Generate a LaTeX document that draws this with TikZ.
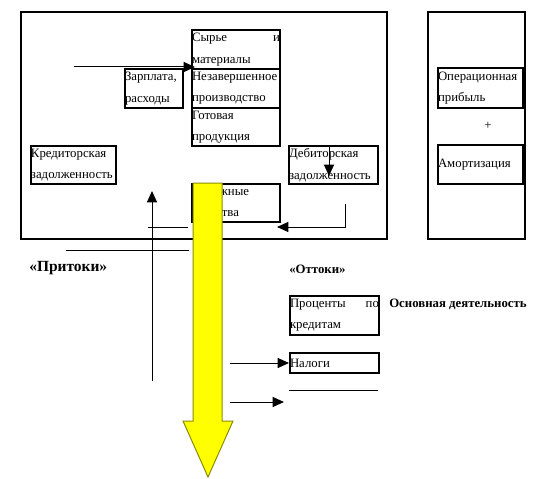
\documentclass[tikz,border=0pt]{standalone}
\usepackage{fontspec}
\setmainfont{Liberation Serif}
\usepackage{xcolor}
\usetikzlibrary{arrows.meta}
\definecolor{flowyellow}{RGB}{255,255,0}
\definecolor{flowedge}{RGB}{140,140,0}

\begin{document}
\begin{tikzpicture}[x=0.75pt,y=0.75pt,yscale=-1,xscale=1,
  box/.style 2 args={draw, line width=1.5pt, anchor=north west, inner sep=0pt, minimum width=#1, text width=#1, minimum height=#2, align=left, font=\fontsize{9.6}{16}\selectfont},
  lbl/.style={anchor=west, inner sep=0.75pt, font=\bfseries\fontsize{9.6}{12}\selectfont},
  arr/.style={line width=0.75pt, -{Triangle[length=8.5pt,width=7.5pt]}},
  ln/.style={line width=0.75pt}]
\useasboundingbox (0,0) rectangle (542,478);

%Shape: Rectangle
\draw [line width=1.5pt] (21,12) rectangle (387,239) ;
%Shape: Rectangle
\draw [line width=1.5pt] (428,12) rectangle (525,239) ;

% Text Node
\node (syr) at (191,29) [box={66pt}{29.25pt}] {Сырье\hfill и\\материалы};
% Text Node
\node (nez) at (191,68) [box={66pt}{29.25pt}] {Незавершенное\\производство};
% Text Node
\node (got) at (191,107) [box={66pt}{28.5pt}] {Готовая\\продукция};
% Text Node
\node (zar) at (124,68) [box={43.5pt}{29.25pt}] {Зарплата,\\расходы};
% Text Node
\node (kred) at (30,145) [box={63.75pt}{28.5pt}] {Кредиторская\\задолженность};
% Text Node
\node (deb) at (288,145) [box={66.75pt}{28.5pt}] {Дебиторская\\задолженность};
% Text Node
\node (den) at (191,183) [box={66pt}{28.5pt}] {Денежные\\средства};
% Text Node
\node (opr) at (437,67) [box={63.75pt}{30pt}] {Операционная\\прибыль};
% Text Node
\node (amo) at (437,144) [box={63.75pt}{29.25pt}] {Амортизация};
% Text Node
\node (plus) at (488,126) [font=\fontsize{9.6}{12}\selectfont, inner sep=0.75pt] {+};
% Text Node
\node (proc) at (289,295) [box={66.75pt}{29.25pt}] {Проценты\hfill по\\кредитам};
% Text Node
\node (nal) at (289,352) [box={66.75pt}{15pt}] {Налоги};
% Text Node
\node (pri) at (28,268) [lbl, font=\bfseries\fontsize{11.6}{14}\selectfont] {«Притоки»};
% Text Node
\node (ott) at (288,269) [lbl] {«Оттоки»};
% Text Node
\node (osn) at (388,304) [lbl] {Основная деятельность};

\coordinate (zin) at (74,67);
\coordinate (debend) at (329,176);
\coordinate (ret1) at (345,204);
\coordinate (ret2) at (277,227);
\coordinate (upbot) at (152,381);
\coordinate (uptop) at (152,191);
\coordinate (nalin) at (230,363);
\coordinate (outa) at (230,402);
\coordinate (outb) at (284,402);

%Straight Lines
\draw [arr] (zin) -- ([xshift=3pt]zin -| syr.west) ;
%Straight Lines
\draw [arr] (debend |- deb.north) -- (debend) ;
%Straight Lines
\draw [arr] (ret1) -- (ret1 |- ret2) -- (ret2) ;
%Straight Lines
\draw [arr] (upbot) -- (uptop) ;
%Straight Lines
\draw [ln] (148,227) -- (188,227) ;
%Straight Lines
\draw [ln] (66,250) -- (189,250) ;
%Straight Lines
\draw [arr] (nalin) -- (nalin -| nal.west) ;
%Straight Lines
\draw [arr] (outa) -- (outb) ;
%Straight Lines
\draw [ln] (289,390) -- (378,390) ;

%Shape: Down Arrow
\draw [fill=flowyellow, draw=flowedge, line width=0.75pt] (193,183) -- (222,183) -- (222,421) -- (233,421) -- (208,477) -- (183,421) -- (193,421) -- cycle ;

\end{tikzpicture}
\end{document}
